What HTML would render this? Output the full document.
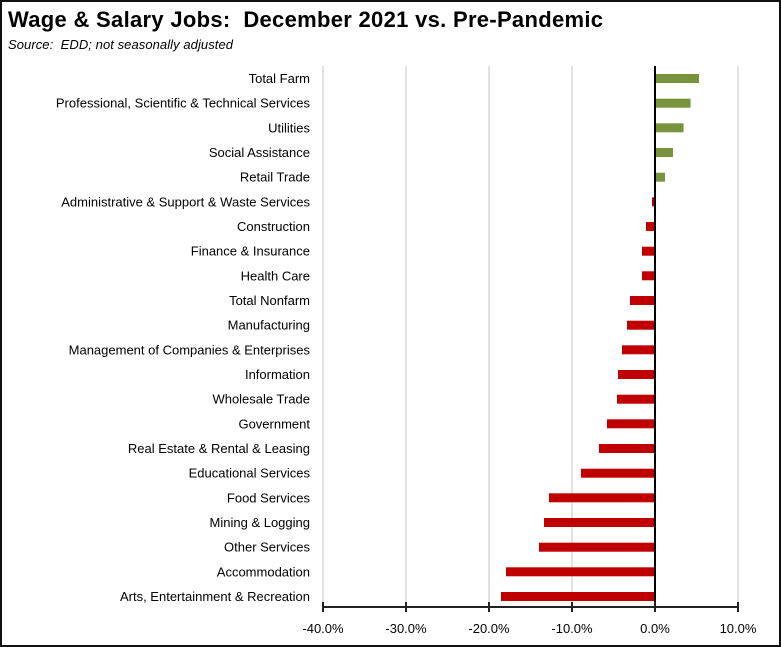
<!DOCTYPE html>
<html><head><meta charset="utf-8"><style>
html,body{margin:0;padding:0;background:#fff}
svg{display:block}
text{font-family:"Liberation Sans",sans-serif}
</style></head><body>
<svg width="781" height="647" viewBox="0 0 781 647" xmlns="http://www.w3.org/2000/svg">
<rect x="1" y="1" width="779" height="645" fill="#fff" stroke="#111" stroke-width="2"/>
<text x="8" y="27" font-size="22" font-weight="bold" fill="#000" textLength="595" lengthAdjust="spacing">Wage &amp; Salary Jobs:&#160; December 2021 vs. Pre-Pandemic</text>
<text x="8" y="49" font-size="13" font-style="italic" fill="#000" textLength="225" lengthAdjust="spacing">Source:&#160; EDD; not seasonally adjusted</text>
<g stroke="#d9d9d9" stroke-width="1.5">
<line x1="323" y1="66" x2="323" y2="608"/><line x1="406" y1="66" x2="406" y2="608"/>
<line x1="489" y1="66" x2="489" y2="608"/><line x1="572" y1="66" x2="572" y2="608"/>
<line x1="738" y1="66" x2="738" y2="608"/>
</g>
<g fill="#77933c">
<rect x="655" y="74" width="44" height="9"/>
<rect x="655" y="98.7" width="35.5" height="9"/>
<rect x="655" y="123.3" width="28.5" height="9"/>
<rect x="655" y="148" width="18" height="9"/>
<rect x="655" y="172.7" width="10" height="9"/>
</g>
<g fill="#c00000">
<rect x="652" y="197.3" width="3" height="9"/>
<rect x="646" y="222" width="9" height="9"/>
<rect x="642" y="246.7" width="13" height="9"/>
<rect x="642" y="271.3" width="13" height="9"/>
<rect x="630" y="296" width="25" height="9"/>
<rect x="627" y="320.7" width="28" height="9"/>
<rect x="622" y="345.3" width="33" height="9"/>
<rect x="618" y="370" width="37" height="9"/>
<rect x="617" y="394.7" width="38" height="9"/>
<rect x="607" y="419.3" width="48" height="9"/>
<rect x="599" y="444" width="56" height="9"/>
<rect x="581" y="468.7" width="74" height="9"/>
<rect x="549" y="493.3" width="106" height="9"/>
<rect x="544" y="518" width="111" height="9"/>
<rect x="539" y="542.7" width="116" height="9"/>
<rect x="506" y="567.3" width="149" height="9"/>
<rect x="501" y="592" width="154" height="9"/>
</g>
<line x1="655" y1="66" x2="655" y2="608" stroke="#000" stroke-width="2"/>
<g stroke="#222" stroke-width="2">
<line x1="323" y1="607" x2="738" y2="607"/>
<line x1="323" y1="602" x2="323" y2="612"/><line x1="406" y1="602" x2="406" y2="612"/>
<line x1="489" y1="602" x2="489" y2="612"/><line x1="572" y1="602" x2="572" y2="612"/>
<line x1="655" y1="602" x2="655" y2="612"/><line x1="738" y1="602" x2="738" y2="612"/>
</g>
<g font-size="13" fill="#000" text-anchor="middle">
<text x="323" y="633">-40.0%</text><text x="406" y="633">-30.0%</text>
<text x="489" y="633">-20.0%</text><text x="572" y="633">-10.0%</text>
<text x="655" y="633">0.0%</text><text x="738" y="633">10.0%</text>
</g>
<g font-size="13" fill="#000" text-anchor="end">
<text x="310" y="83">Total Farm</text>
<text x="310" y="107.7">Professional, Scientific &amp; Technical Services</text>
<text x="310" y="132.3">Utilities</text>
<text x="310" y="157">Social Assistance</text>
<text x="310" y="181.7">Retail Trade</text>
<text x="310" y="206.3">Administrative &amp; Support &amp; Waste Services</text>
<text x="310" y="231">Construction</text>
<text x="310" y="255.7">Finance &amp; Insurance</text>
<text x="310" y="280.3">Health Care</text>
<text x="310" y="305">Total Nonfarm</text>
<text x="310" y="329.7">Manufacturing</text>
<text x="310" y="354.3">Management of Companies &amp; Enterprises</text>
<text x="310" y="379">Information</text>
<text x="310" y="403.7">Wholesale Trade</text>
<text x="310" y="428.3">Government</text>
<text x="310" y="453">Real Estate &amp; Rental &amp; Leasing</text>
<text x="310" y="477.7">Educational Services</text>
<text x="310" y="502.3">Food Services</text>
<text x="310" y="527">Mining &amp; Logging</text>
<text x="310" y="551.7">Other Services</text>
<text x="310" y="576.3">Accommodation</text>
<text x="310" y="601">Arts, Entertainment &amp; Recreation</text>
</g>
</svg>
</body></html>
